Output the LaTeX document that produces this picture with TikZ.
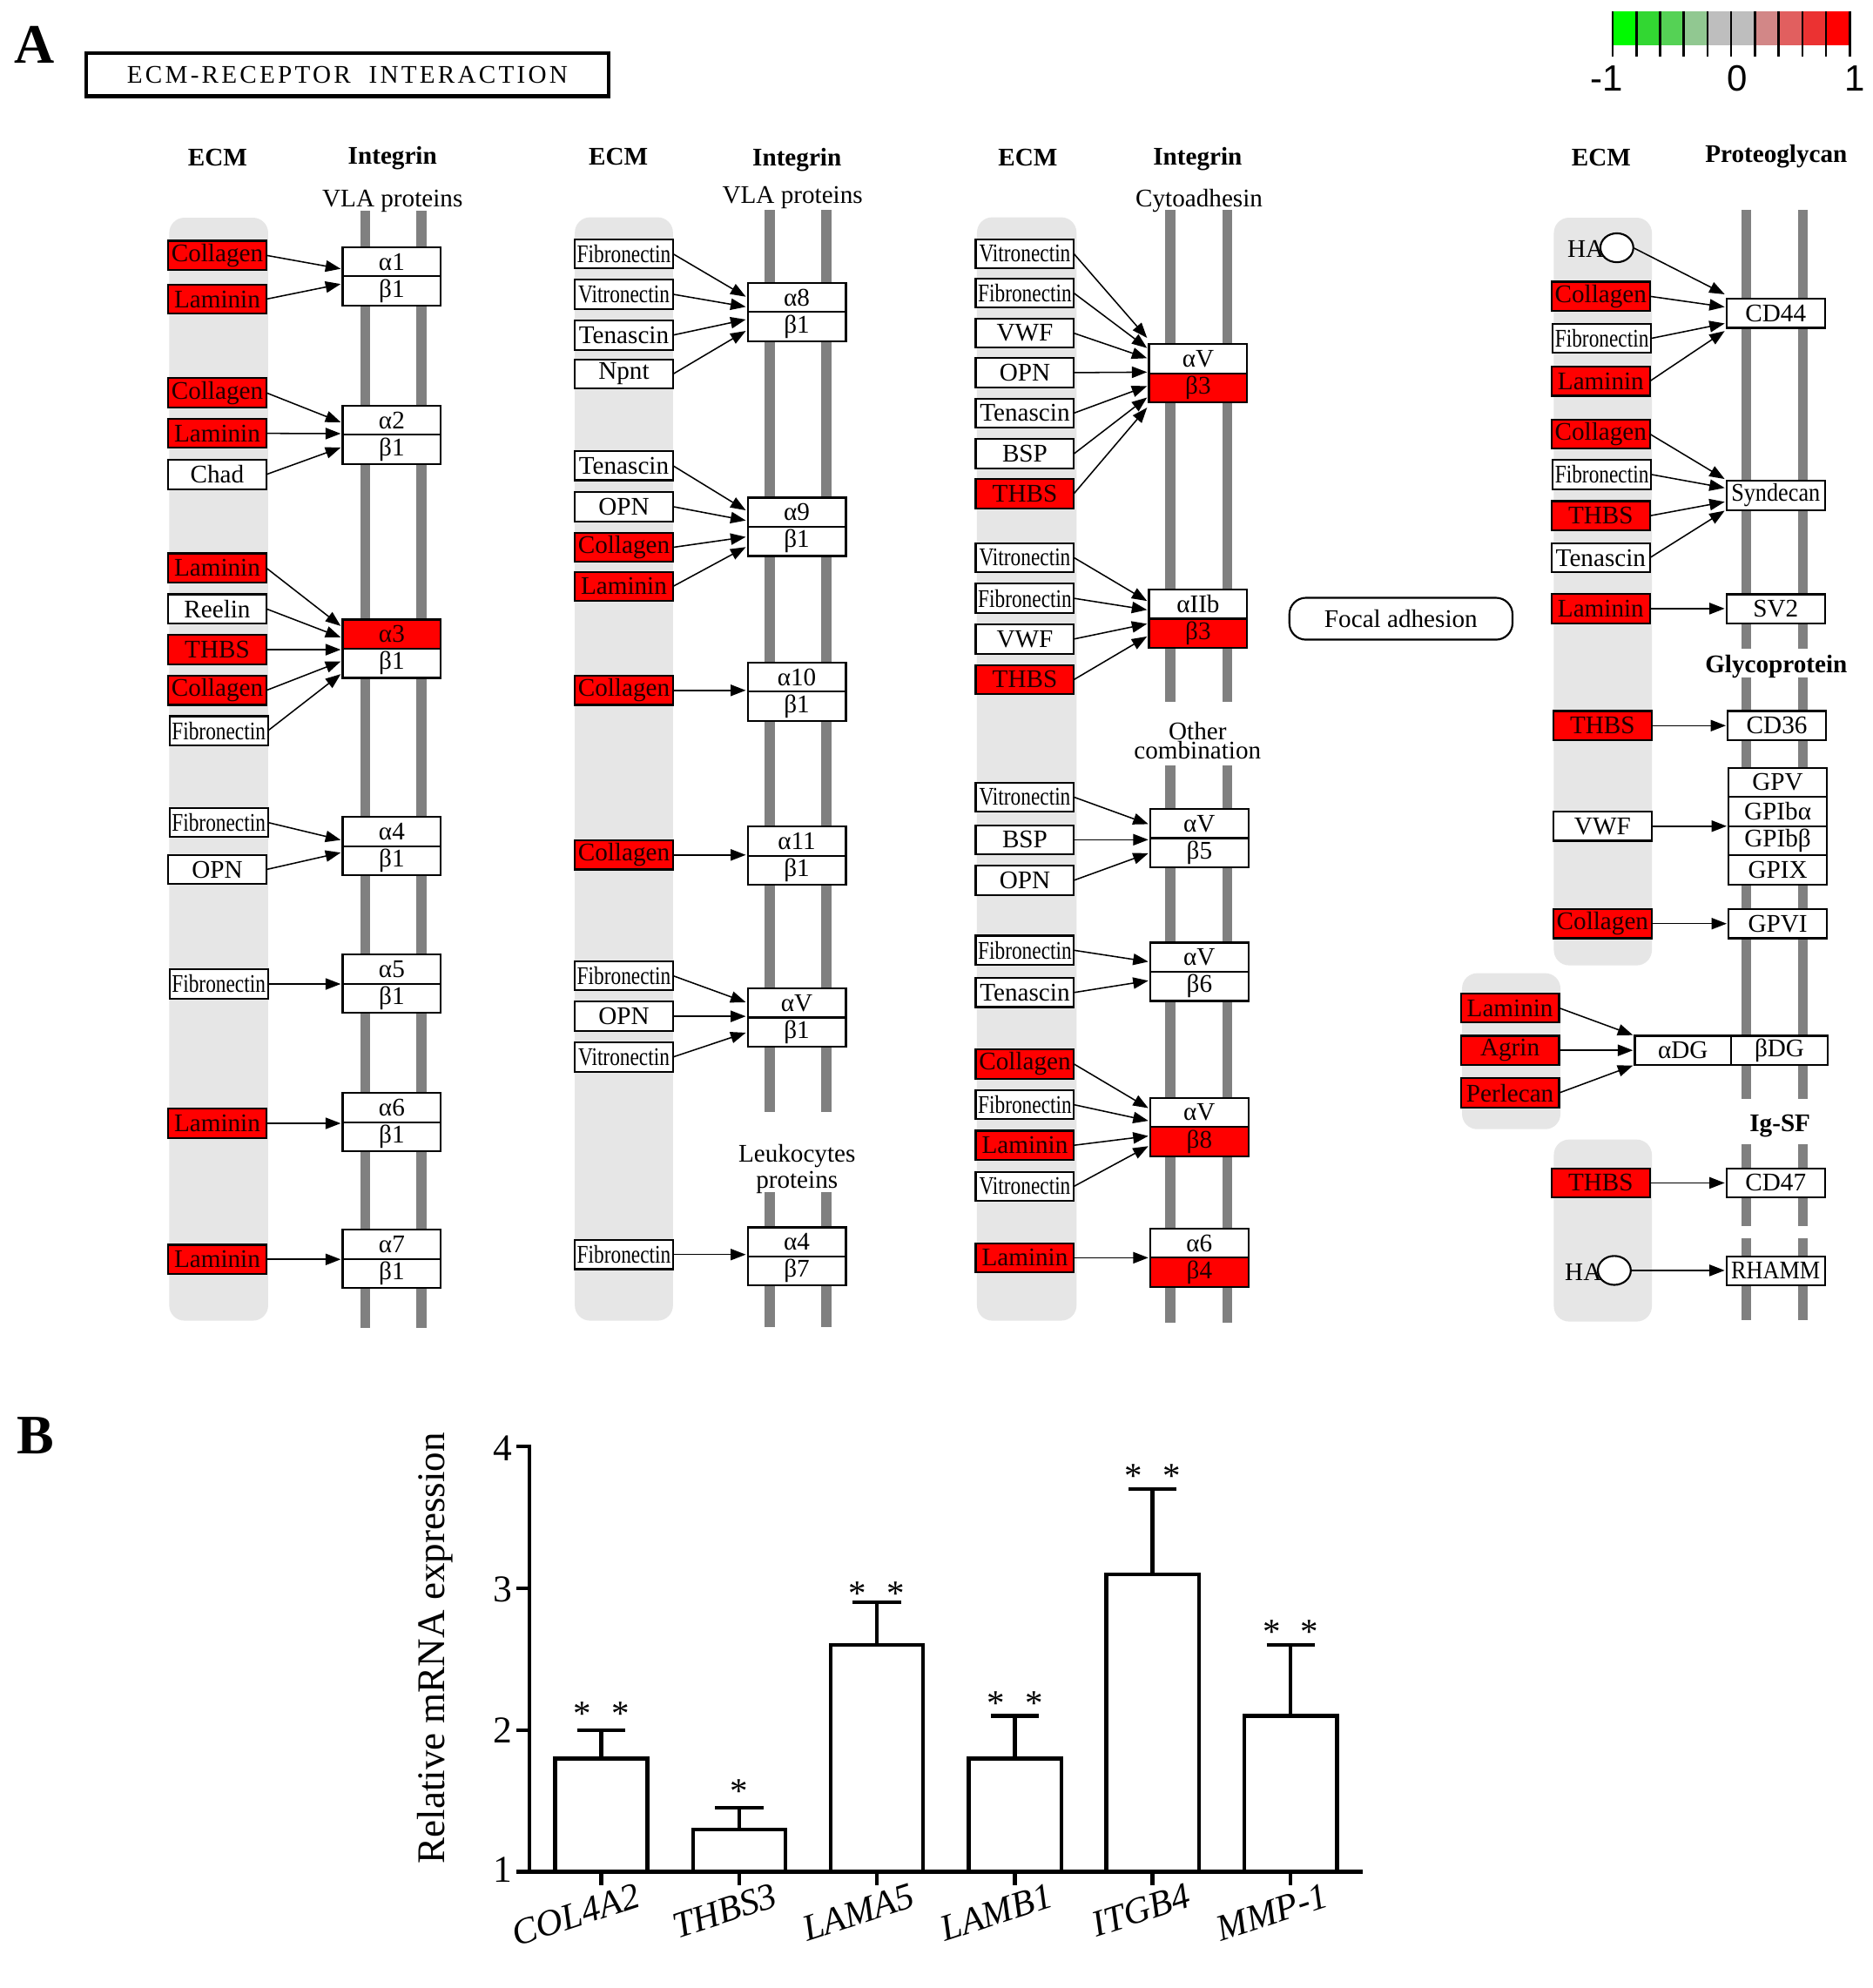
\documentclass[tikz,border=0pt]{standalone}
\usepackage{fontspec}
\usepackage{graphicx}
\setmainfont{Liberation Serif}
\newfontfamily\sansf{Liberation Sans}
\newfontfamily\ttlf[LetterSpace=11]{Liberation Serif}
\usetikzlibrary{arrows.meta,calc,shapes.geometric}
\definecolor{kred}{RGB}{255,0,0}
\definecolor{kdark}{RGB}{30,0,0}
\definecolor{kcol}{RGB}{230,230,230}
\definecolor{kbar}{RGB}{128,128,128}
\definecolor{lg0}{RGB}{0,250,0}
\definecolor{lg1}{RGB}{50,215,50}
\definecolor{lg2}{RGB}{85,210,85}
\definecolor{lg3}{RGB}{145,200,145}
\definecolor{lg4}{RGB}{190,190,190}
\definecolor{lg5}{RGB}{190,190,190}
\definecolor{lg6}{RGB}{210,135,135}
\definecolor{lg7}{RGB}{225,95,95}
\definecolor{lg8}{RGB}{235,50,50}
\definecolor{lg9}{RGB}{255,0,0}
\newcommand\fbx{\fontsize{5.7pt}{6.2pt}\selectfont}
\newcommand\fhd{\fontsize{5.7pt}{6.2pt}\selectfont\bfseries}
\newcommand\fsub{\fontsize{5.7pt}{4.3pt}\selectfont}
\newcommand\fpanel{\fontsize{12.5pt}{13pt}\selectfont\bfseries}
\newcommand\flg{\sansf\fontsize{8.2pt}{9pt}\selectfont}
\newcommand\fyt{\fontsize{8.5pt}{9pt}\selectfont}
\newcommand\fxl{\fontsize{8.3pt}{9pt}\selectfont\itshape}
\newcommand\fyl{\fontsize{8.8pt}{9pt}\selectfont}
\newcommand\fst{\fontsize{8pt}{9pt}\selectfont}
\newcommand\sq[1]{\scalebox{0.8}[1]{#1}}
\newcommand\sqb[1]{\scalebox{0.9}[1]{#1}}
\tikzset{
 ebox/.style={draw, line width=0.42pt, inner sep=0pt, outer sep=0pt, minimum width=7.75mm, minimum height=2.3mm, font=\fbx, fill=white},
 wb/.style={fill=white},
 rb/.style={fill=kred, text=kdark},
 arr/.style={line width=0.3pt, -{Triangle[length=1.2mm,width=0.9mm]}},
 kbarl/.style={line width=0.8mm, draw=kbar},
 kcolf/.style={fill=kcol, rounded corners=1.2mm},
 hd/.style={font=\fhd, inner sep=0pt},
 subl/.style={font=\fbx, inner sep=0pt},
 subm/.style={font=\fsub, inner sep=0pt, align=center},
 cline/.style={line width=0.85pt},
 xl/.style={font=\fxl, inner sep=0pt, rotate=18, anchor=north east},
 yt/.style={font=\fyt, inner sep=0pt, anchor=east},
 st/.style={font=\fst, inner sep=0pt, anchor=base},
 haell/.style={draw, line width=0.42pt, ellipse, fill=white, inner sep=0pt, outer sep=0pt, minimum width=2.6mm, minimum height=2.28mm},
}
% integrin pair: name, x, ymid, alpha, beta, style a, style b
\newcommand\kig[7]{%
 \node[ebox,#6,anchor=south] (#1a) at (#2,#3) {#4};
 \node[ebox,#7,anchor=north] (#1b) at (#2,#3) {#5};}
\newcommand\kar[3]{\draw[arr] (#1.east) -- ($(#2.south west)+(-1.5,#3)$);}
\newcommand\kas[2]{\draw[arr] (#1.east) -- ($(#1.east -| #2.west)+(-1.5,0)$);}
\newcommand\kaw[3]{\draw[arr] (#1.east) -- ($(#2.west)+(-1.5,#3)$);}
\begin{document}
\begin{tikzpicture}[x=0.1mm,y=-0.1mm]
\useasboundingbox (0,0) rectangle (1477,1568);
\fill[white] (0,0) rectangle (1477,1568);

% ---------- panel letters and title ----------
\node[font=\fpanel, inner sep=0pt] (pA) at (27,35) {A};
\node[font=\fpanel, inner sep=0pt] (pB) at (28,1132) {B};
\node[draw, line width=0.85pt, minimum width=41.2mm, minimum height=3.4mm, inner sep=0pt] (ttl) at (274,59)
 {\ttlf\fontsize{5.7pt}{6pt}\selectfont ECM-RECEPTOR\ \ INTERACTION};

% ---------- legend ----------
\foreach \i in {0,...,9} \fill[lg\i] ({1272+\i*18.7},8.8) rectangle ({1272+(\i+1)*18.7},36);
\foreach \i in {0,...,10} \draw[line width=0.5pt] ({1272+\i*18.7},8.8) -- ({1272+\i*18.7},44.5);
\node[font=\flg, inner sep=0pt] (lgm) at (1267,62) {-1};
\node[font=\flg, inner sep=0pt] (lgz) at (1370,62) {0};
\node[font=\flg, inner sep=0pt] (lgp) at (1463,62) {1};

% ---------- grey ECM columns ----------
\fill[kcolf] (133.5,171.7) rectangle (211.5,1041.6);
\fill[kcolf] (453.4,171.4) rectangle (530.8,1041.6);
\fill[kcolf] (770.6,171.4) rectangle (849.1,1041.6);
\fill[kcolf] (1225.6,171.7) rectangle (1302.9,761.4);
\fill[kcolf] (1153.2,767.6) rectangle (1230.8,890.6);
\fill[kcolf] (1225.6,898.8) rectangle (1302.9,1042.3);

% ---------- membrane bars ----------
\foreach \bx in {288,332.4} \draw[kbarl] (\bx,166.5) -- (\bx,1047.4);
\foreach \bx in {607.2,651.8} {\draw[kbarl] (\bx,165.7) -- (\bx,877); \draw[kbarl] (\bx,940.1) -- (\bx,1046.7);}
\foreach \bx in {923.2,968} {\draw[kbarl] (\bx,165.7) -- (\bx,553.7); \draw[kbarl] (\bx,603.6) -- (\bx,1043.3);}
\foreach \bx in {1377.3,1422} {\draw[kbarl] (\bx,165.4) -- (\bx,511.7); \draw[kbarl] (\bx,534.5) -- (\bx,866.7);
 \draw[kbarl] (\bx,902.2) -- (\bx,967); \draw[kbarl] (\bx,976.7) -- (\bx,1041);}

% ---------- headers ----------
\node[hd] (h1e) at (171.7,124.4) {ECM};
\node[hd] (h1i) at (309.6,124.4) {Integrin};
\node[subl] (h1v) at (309.6,158.4) {VLA proteins};
\node[hd] (h2e) at (487.7,123.5) {ECM};
\node[hd] (h2i) at (628.6,126.4) {Integrin};
\node[subl] (h2v) at (625.1,155.7) {VLA proteins};
\node[subm] (h2l) at (628.6,922) {Leukocytes\\proteins};
\node[hd] (h3e) at (810.7,124.4) {ECM};
\node[hd] (h3i) at (944.6,125.3) {Integrin};
\node[subl] (h3c) at (945.8,158.6) {Cytoadhesin};
\node[subm] (h3o) at (944.6,584) {Other\\combination};
\node[hd] (h4e) at (1263,124.4) {ECM};
\node[hd] (h4p) at (1401,123.4) {Proteoglycan};
\node[hd] (h4g) at (1401,525.8) {Glycoprotein};
\node[hd] (h4s) at (1404,887.8) {Ig-SF};

% ---------- column 1 ----------
\node[ebox,rb] (c1a) at (171.35,201.4) {Collagen};
\node[ebox,rb] (c1b) at (171.35,235.9) {Laminin};
\node[ebox,rb] (c2a) at (171.35,309.8) {Collagen};
\node[ebox,rb] (c2b) at (171.35,341.8) {Laminin};
\node[ebox] (c2c) at (171.35,374.2) {Chad};
\node[ebox,rb] (c3a) at (171.35,448) {Laminin};
\node[ebox] (c3b) at (171.35,480.2) {Reelin};
\node[ebox,rb] (c3c) at (171.35,512.4) {THBS};
\node[ebox,rb] (c3d) at (171.35,544.5) {Collagen};
\node[ebox] (c3e) at (172.5,576.4) {\sq{Fibronectin}};
\node[ebox] (c4a) at (172.5,648.7) {\sq{Fibronectin}};
\node[ebox] (c4b) at (171.35,685.8) {OPN};
\node[ebox] (c5a) at (172.5,776.1) {\sq{Fibronectin}};
\node[ebox,rb] (c6a) at (171.35,886) {Laminin};
\node[ebox,rb] (c7a) at (171.35,993.3) {Laminin};
\kig{i1}{309}{218}{α1}{β1}{wb}{wb}
\kig{i2}{309}{343}{α2}{β1}{wb}{wb}
\kig{i3}{309}{511.7}{α3}{β1}{rb}{wb}
\kig{i4}{309}{667.5}{α4}{β1}{wb}{wb}
\kig{i5}{309}{776}{α5}{β1}{wb}{wb}
\kig{i6}{309}{885}{α6}{β1}{wb}{wb}
\kig{i7}{309}{993}{α7}{β1}{wb}{wb}
\kar{c1a}{i1a}{-6} \kar{c1b}{i1a}{6}
\kar{c2a}{i2a}{-10} \kar{c2b}{i2a}{-1} \kar{c2c}{i2a}{10}
\kar{c3a}{i3a}{-18} \kar{c3b}{i3a}{-9} \kas{c3c}{i3a} \kar{c3d}{i3a}{10} \kar{c3e}{i3a}{20}
\kar{c4a}{i4a}{-5} \kar{c4b}{i4a}{5}
\kas{c5a}{i5a} \kas{c6a}{i6a} \kas{c7a}{i7a}

% ---------- column 2 ----------
\node[ebox] (d1a) at (492.1,200.2) {\sq{Fibronectin}};
\node[ebox] (d1b) at (492.1,232.1) {\sq{Vitronectin}};
\node[ebox] (d1c) at (492.1,264.3) {Tenascin};
\node[ebox] (d1d) at (492.1,295) {Npnt};
\node[ebox] (d2a) at (492.1,367.3) {Tenascin};
\node[ebox] (d2b) at (492.1,399.6) {OPN};
\node[ebox,rb] (d2c) at (492.1,431.7) {Collagen};
\node[ebox,rb] (d2d) at (492.1,462.5) {Laminin};
\node[ebox,rb] (d3a) at (492.1,544.5) {Collagen};
\node[ebox,rb] (d4a) at (492.1,674.3) {Collagen};
\node[ebox] (d5a) at (492.1,769.6) {\sq{Fibronectin}};
\node[ebox] (d5b) at (492.1,801.6) {OPN};
\node[ebox] (d5c) at (492.1,833.7) {\sq{Vitronectin}};
\node[ebox] (d6a) at (492.1,989.5) {\sq{Fibronectin}};
\kig{j1}{628.5}{246}{α8}{β1}{wb}{wb}
\kig{j2}{628.5}{415.5}{α9}{β1}{wb}{wb}
\kig{j3}{628.5}{545.5}{α10}{β1}{wb}{wb}
\kig{j4}{628.5}{675}{α11}{β1}{wb}{wb}
\kig{j5}{628.5}{802.5}{αV}{β1}{wb}{wb}
\kig{j6}{628.5}{991}{α4}{β7}{wb}{wb}
\kar{d1a}{j1a}{-12} \kar{d1b}{j1a}{-4} \kar{d1c}{j1a}{6} \kar{d1d}{j1a}{15}
\kar{d2a}{j2a}{-13} \kar{d2b}{j2a}{-5} \kar{d2c}{j2a}{8} \kar{d2d}{j2a}{16}
\kas{d3a}{j3a} \kas{d4a}{j4a}
\kar{d5a}{j5a}{-12} \kas{d5b}{j5a} \kar{d5c}{j5a}{12}
\kas{d6a}{j6a}

% ---------- column 3 ----------
\node[ebox] (e1a) at (808.35,200.2) {\sq{Vitronectin}};
\node[ebox] (e1b) at (808.35,231.2) {\sq{Fibronectin}};
\node[ebox] (e1c) at (808.35,262.8) {VWF};
\node[ebox] (e1d) at (808.35,293.9) {OPN};
\node[ebox] (e1e) at (808.35,325.8) {Tenascin};
\node[ebox] (e1f) at (808.35,357.9) {BSP};
\node[ebox,rb] (e1g) at (808.35,389.3) {THBS};
\node[ebox] (e2a) at (808.35,439.8) {\sq{Vitronectin}};
\node[ebox] (e2b) at (808.35,471.9) {\sq{Fibronectin}};
\node[ebox] (e2c) at (808.35,504) {VWF};
\node[ebox,rb] (e2d) at (808.35,536) {THBS};
\node[ebox] (e3a) at (808.35,628.7) {\sq{Vitronectin}};
\node[ebox] (e3b) at (808.35,662.3) {BSP};
\node[ebox] (e3c) at (808.35,694.3) {OPN};
\node[ebox] (e4a) at (808.35,749.5) {\sq{Fibronectin}};
\node[ebox] (e4b) at (808.35,782.8) {Tenascin};
\node[ebox,rb] (e5a) at (808.35,839.2) {Collagen};
\node[ebox] (e5b) at (808.35,871.3) {\sq{Fibronectin}};
\node[ebox,rb] (e5c) at (808.35,903.3) {Laminin};
\node[ebox] (e5d) at (808.35,935.7) {\sq{Vitronectin}};
\node[ebox,rb] (e6a) at (808.35,992) {Laminin};
\kig{k1}{945}{294.5}{αV}{β3}{wb}{rb}
\kig{k2}{945}{488}{αIIb}{β3}{wb}{rb}
\kig{k3}{946}{661}{αV}{β5}{wb}{wb}
\kig{k4}{946}{766.5}{αV}{β6}{wb}{wb}
\kig{k5}{946}{889}{αV}{β8}{wb}{rb}
\kig{k6}{946}{992}{α6}{β4}{wb}{rb}
\kar{e1a}{k1a}{-28} \kar{e1b}{k1a}{-20} \kar{e1c}{k1a}{-12} \kar{e1d}{k1a}{-1}
\kar{e1e}{k1a}{10} \kar{e1f}{k1a}{19} \kar{e1g}{k1a}{27}
\kar{e2a}{k2a}{-14} \kar{e2b}{k2a}{-7} \kar{e2c}{k2a}{4} \kar{e2d}{k2a}{14}
\kar{e3a}{k3a}{-11} \kas{e3b}{k3a} \kar{e3c}{k3a}{12}
\kar{e4a}{k4a}{-8} \kar{e4b}{k4a}{7}
\kar{e5a}{k5a}{-15} \kar{e5b}{k5a}{-5} \kar{e5c}{k5a}{7} \kar{e5d}{k5a}{15}
\kas{e6a}{k6a}

% ---------- column 4 ----------
\node[subl, anchor=east] (hat1) at (1266,196.5) {HA};
\node[haell] (ha1) at (1275.3,195.4) {};
\node[ebox,rb] (f1b) at (1262.6,233.7) {Collagen};
\node[ebox] (f1c) at (1263.5,266.9) {\sq{Fibronectin}};
\node[ebox,rb] (f1d) at (1262.6,300.6) {Laminin};
\node[ebox,rb] (f2a) at (1262.6,342.3) {Collagen};
\node[ebox] (f2b) at (1263.5,374.2) {\sq{Fibronectin}};
\node[ebox,rb] (f2c) at (1262.6,406.8) {THBS};
\node[ebox] (f2d) at (1262.6,439.9) {Tenascin};
\node[ebox,rb] (f3) at (1262.6,480) {Laminin};
\node[ebox,rb] (f4) at (1264,572.3) {THBS};
\node[ebox] (f5) at (1264,651.6) {VWF};
\node[ebox,rb] (f6) at (1264,728.5) {Collagen};
\node[ebox,rb] (g1) at (1191,795) {Laminin};
\node[ebox,rb] (g2) at (1191,828.4) {Agrin};
\node[ebox,rb] (g3) at (1191,862) {Perlecan};
\node[ebox,rb] (f7) at (1262.6,933) {THBS};
\node[subl, anchor=east] (hat2) at (1264,1003) {HA};
\node[haell] (ha2) at (1273.3,1002) {};

\node[ebox] (cd44) at (1400.6,247.1) {CD44};
\node[ebox] (synd) at (1400.6,390.8) {\sqb{Syndecan}};
\node[ebox] (sv2) at (1400.6,480.2) {SV2};
\node[ebox] (cd36) at (1401.5,572.3) {CD36};
\node[ebox] (gp1) at (1402.2,617) {GPV};
\node[ebox] (gp2) at (1402.2,640) {GPIbα};
\node[ebox] (gp3) at (1402.2,663) {GPIbβ};
\node[ebox] (gp4) at (1402.2,686) {GPIX};
\node[ebox] (gpvi) at (1402.2,728.5) {GPVI};
\node[ebox, minimum width=7.6mm] (adg) at (1327.5,828.4) {αDG};
\node[ebox, minimum width=7.6mm] (bdg) at (1403.5,828.4) {βDG};
\node[ebox] (cd47) at (1400.6,933) {CD47};
\node[ebox] (rhamm) at (1400.6,1002.3) {\sqb{RHAMM}};

\kaw{ha1}{cd44}{-15} \kaw{f1b}{cd44}{-5} \kaw{f1c}{cd44}{8} \kaw{f1d}{cd44}{14}
\kaw{f2a}{synd}{-13} \kaw{f2b}{synd}{-6} \kaw{f2c}{synd}{5} \kaw{f2d}{synd}{12}
\kas{f3}{sv2} \kas{f4}{cd36} \kas{f5}{gp2} \kas{f6}{gpvi}
\kaw{g1}{adg}{-12} \kas{g2}{adg} \kaw{g3}{adg}{12}
\kas{f7}{cd47} \kas{ha2}{rhamm}

\node[draw, line width=0.42pt, rounded corners=1.3mm, minimum width=17.6mm, minimum height=3.3mm, inner sep=0pt, font=\fbx] (fa) at (1105,488) {Focal adhesion};

% ---------- panel B: bar chart ----------
\draw[cline] (417.5,1139.6) -- (417.5,1476.3);
\draw[cline] (407.5,1476.3) -- (1075,1476.3);
\foreach \ty in {1141,1252.8,1364.5} \draw[cline] (407.5,\ty) -- (417.5,\ty);
\node[yt] (yt4) at (405,1142) {4};
\node[yt] (yt3) at (405,1253.5) {3};
\node[yt] (yt2) at (405,1365) {2};
\node[yt] (yt1) at (405,1475) {1};
\node[font=\fyl, inner sep=0pt, rotate=90] (ylab) at (343,1300) {Relative mRNA expression};
\foreach \cx/\tp/\er in {474.25/1386.9/1364.5, 583/1442.8/1426, 691.6/1297.5/1263.9, 800.5/1386.9/1353.4, 909.1/1241.6/1174.5, 1018/1353.4/1297.5}{
 \draw[cline] ({\cx-36.5},1476.3) rectangle ({\cx+36.5},\tp);
 \draw[cline] (\cx,\tp) -- (\cx,\er);
 \draw[cline] ({\cx-19},\er) -- ({\cx+19},\er);
 \draw[cline] (\cx,1476.3) -- (\cx,1487);
}
\node[xl] (xl1) at (501,1484) {COL4A2};
\node[xl] (xl2) at (609,1484) {THBS3};
\node[xl] (xl3) at (717.6,1484) {LAMA5};
\node[xl] (xl4) at (826.5,1484) {LAMB1};
\node[xl] (xl5) at (935.1,1484) {ITGB4};
\node[xl] (xl6) at (1044,1484) {MMP-1};
% stars (baseline = star centre + 13)
\node[st] (s1a) at (459.3,1360.6) {*};
\node[st] (s1b) at (489.3,1360.6) {*};
\node[st] (s2a) at (583,1422) {*};
\node[st] (s3a) at (676.6,1266) {*};
\node[st] (s3b) at (706.6,1266) {*};
\node[st] (s4a) at (785.5,1353) {*};
\node[st] (s4b) at (815.5,1353) {*};
\node[st] (s5a) at (894.1,1173.6) {*};
\node[st] (s5b) at (924.1,1173.6) {*};
\node[st] (s6a) at (1003,1296.3) {*};
\node[st] (s6b) at (1033,1296.3) {*};
\end{tikzpicture}
\end{document}
